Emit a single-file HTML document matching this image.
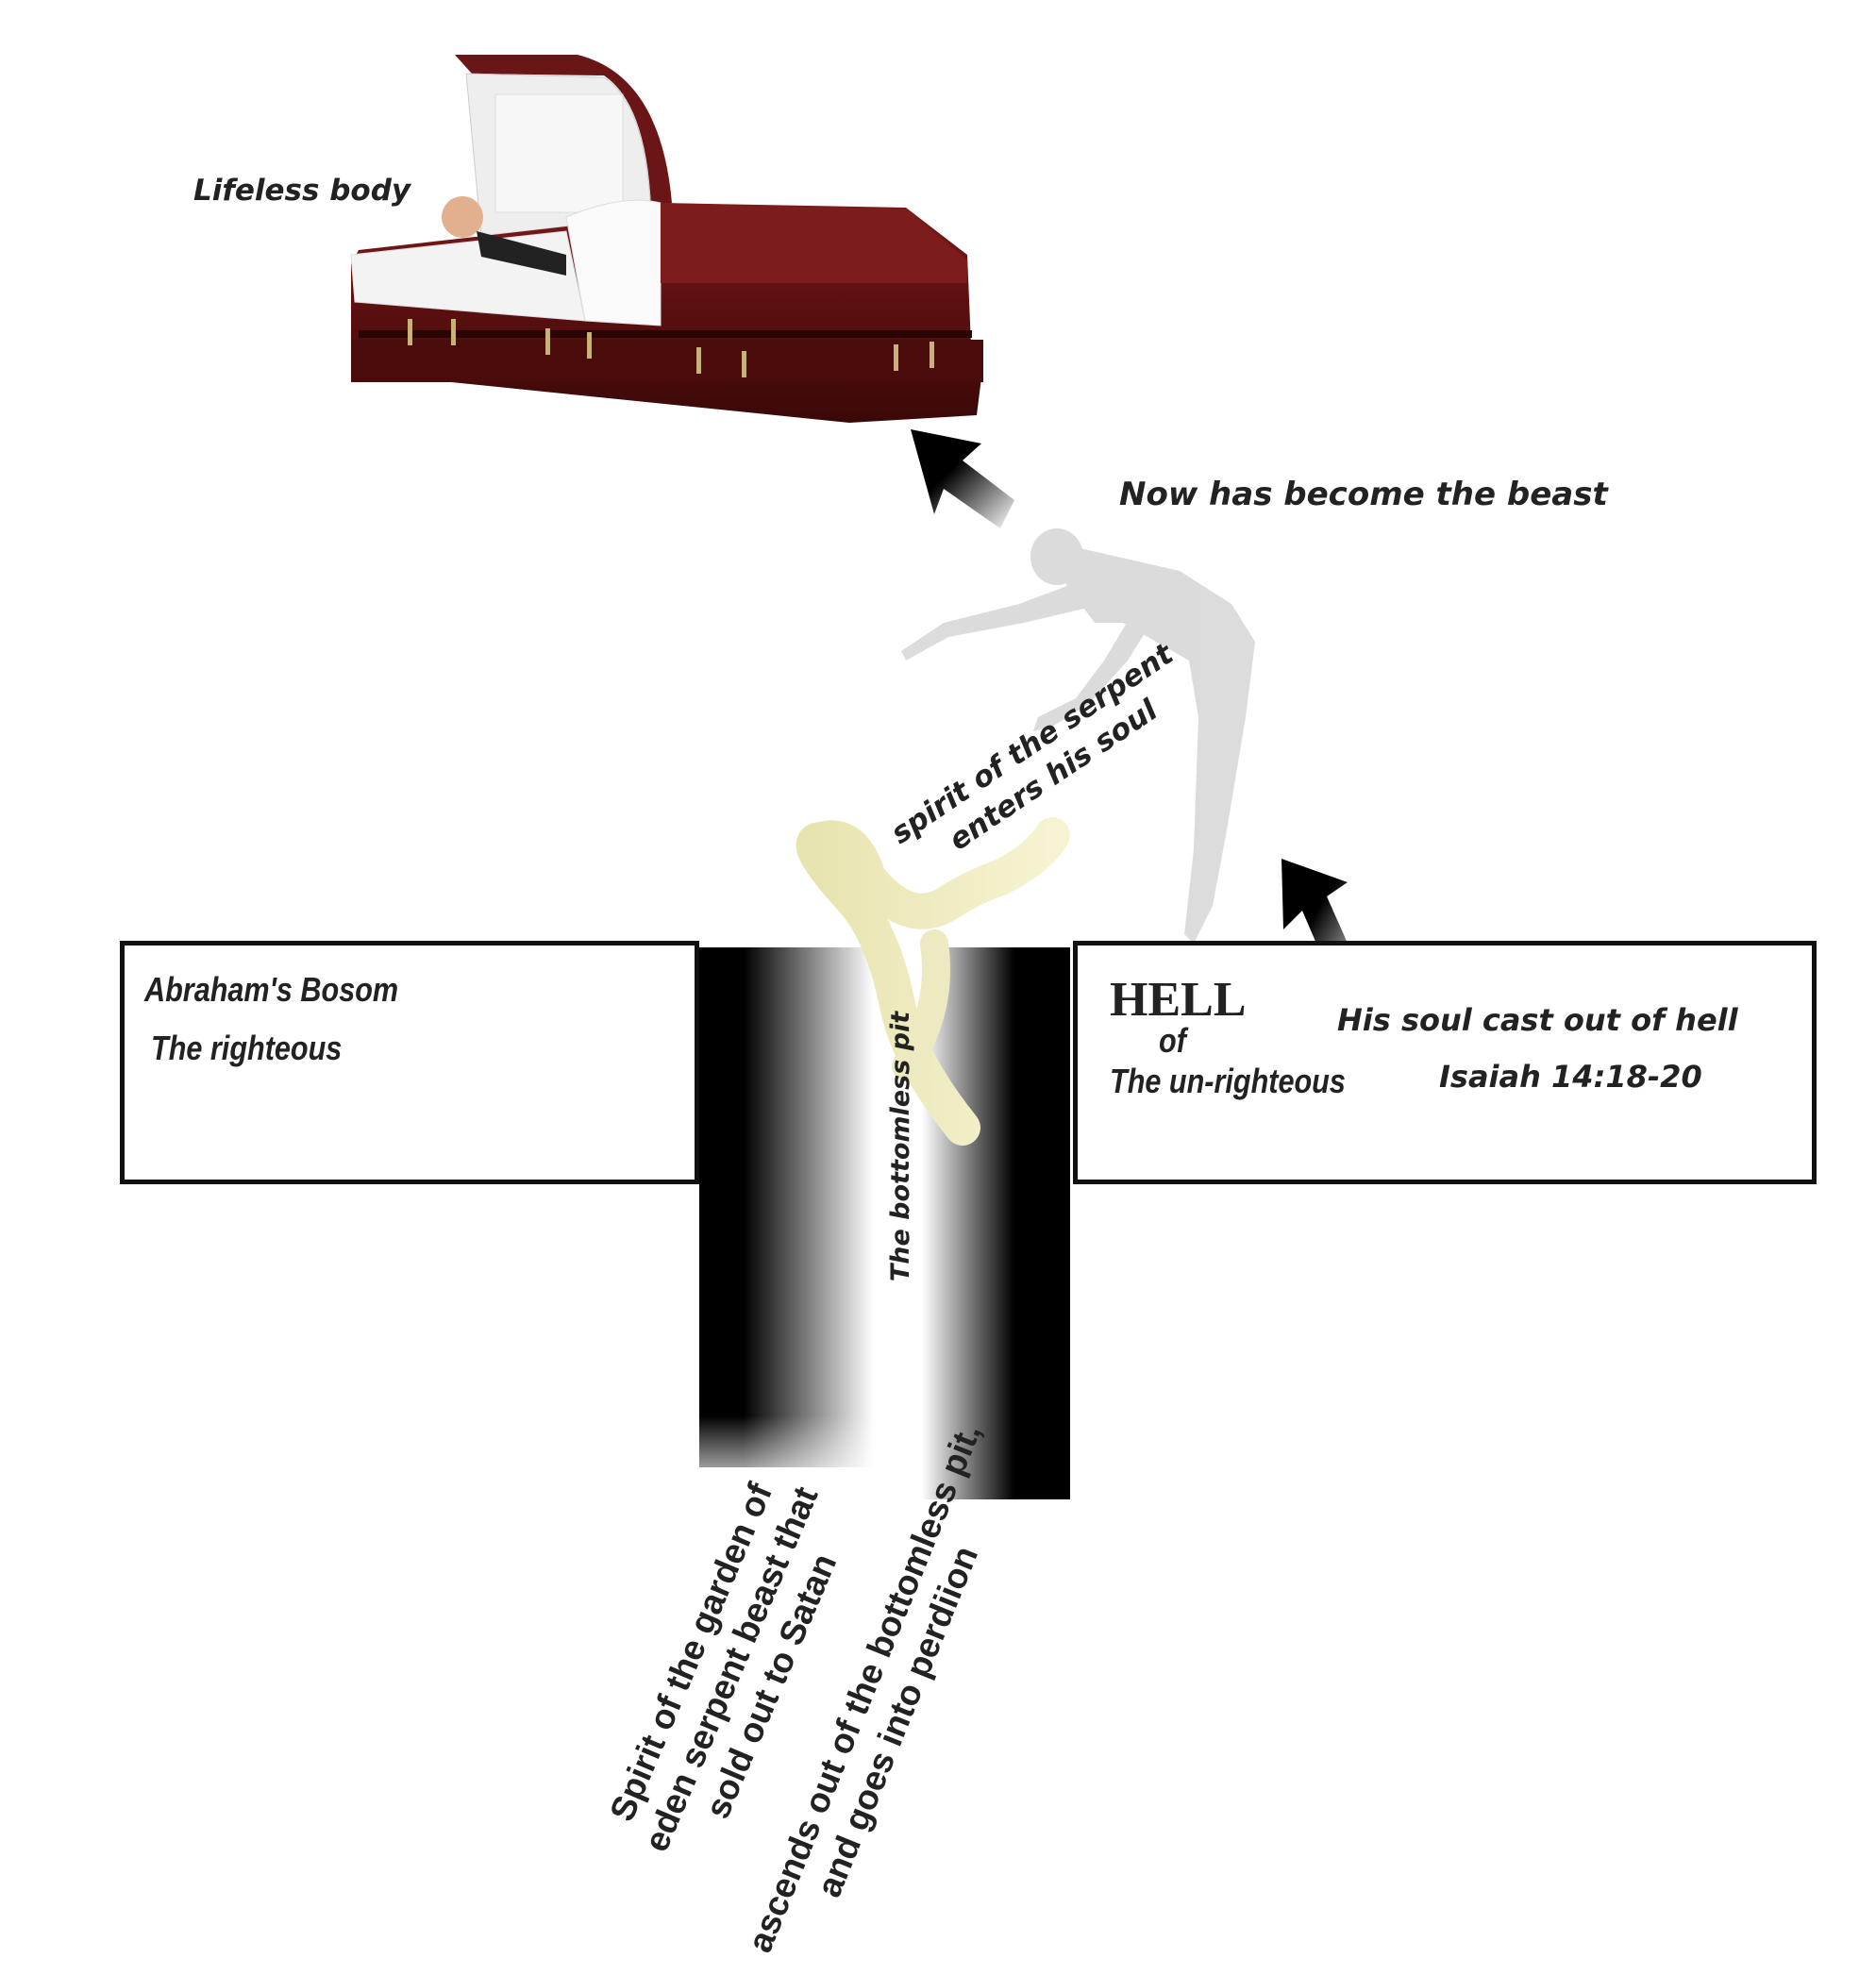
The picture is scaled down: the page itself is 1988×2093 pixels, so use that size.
<!DOCTYPE html>
<html><head><meta charset="utf-8"><style>
html,body{margin:0;padding:0;background:#fff;}
body{width:1988px;height:2048px;position:relative;overflow:hidden;font-family:"DejaVu Sans","Liberation Sans",sans-serif;}
.t{position:absolute;white-space:nowrap;color:#222;}
.bi{font-weight:bold;font-style:italic;font-family:"DejaVu Sans",sans-serif;}
.nar{font-family:"Liberation Sans",sans-serif;font-weight:bold;font-style:italic;transform-origin:left top;transform:scaleX(0.85);}
.box{position:absolute;border:5px solid #111;box-sizing:border-box;background:#fff;}
.rot{position:absolute;white-space:nowrap;text-align:center;transform-origin:center center;color:#222;font-weight:bold;}
</style></head><body>

<svg width="1988" height="2048" style="position:absolute;left:0;top:0">
<defs>
<linearGradient id="pit" x1="0" x2="1" y1="0" y2="0">
<stop offset="0" stop-color="#000"/><stop offset="0.12" stop-color="#000"/>
<stop offset="0.47" stop-color="#fff"/><stop offset="0.6" stop-color="#fff"/>
<stop offset="0.85" stop-color="#000"/><stop offset="1" stop-color="#000"/>
</linearGradient>
<linearGradient id="fadeB" x1="0" x2="0" y1="0" y2="1">
<stop offset="0" stop-color="#fff" stop-opacity="0"/><stop offset="1" stop-color="#fff"/>
</linearGradient>
<linearGradient id="ar1" x1="1" y1="1" x2="0" y2="0">
<stop offset="0" stop-color="#000" stop-opacity="0"/><stop offset="0.6" stop-color="#000"/><stop offset="1" stop-color="#000"/>
</linearGradient>
<linearGradient id="wood" x1="0" x2="0" y1="0" y2="1">
<stop offset="0" stop-color="#7a1a1a"/><stop offset="0.5" stop-color="#5a0f0f"/><stop offset="1" stop-color="#3a0808"/>
</linearGradient>
<linearGradient id="snake" x1="0" x2="1">
<stop offset="0" stop-color="#e8e4b0"/><stop offset="1" stop-color="#f6f3d2"/>
</linearGradient>
</defs>

<rect x="741" y="1004" width="393" height="585" fill="url(#pit)"/>
<rect x="741" y="1500" width="200" height="90" fill="url(#fadeB)"/>
<rect x="741" y="1555" width="200" height="40" fill="#fff"/>

<path d="M482 58 L612 58 Q700 80 712 215 L690 220 Q685 110 640 80 L500 78 Z" fill="#6b1616"/>
<path d="M494 78 L640 82 Q685 110 690 230 L510 250 Z" fill="#eeeeee" stroke="#ccc"/>
<rect x="525" y="100" width="135" height="125" fill="#f7f7f7" stroke="#ddd"/>
<path d="M372 280 L380 265 L600 240 L700 215 L960 220 L1025 270 L1030 390 L1040 400 L1035 440 L900 448 L380 395 L372 380 Z" fill="url(#wood)"/>
<path d="M372 270 L600 245 L620 340 L376 320 Z" fill="#f3f3f3" stroke="#ddd"/>
<path d="M600 230 Q660 205 700 215 L700 345 L620 340 Z" fill="#fafafa" stroke="#ddd"/>
<path d="M700 215 L960 222 L1025 275 L1025 300 L700 300 Z" fill="#7d1c1c"/>
<rect x="380" y="350" width="650" height="8" fill="#2a0505"/>
<rect x="372" y="360" width="670" height="45" fill="#4a0b0b"/>
<g fill="#c9b27a"><rect x="432" y="338" width="5" height="28"/><rect x="478" y="338" width="5" height="28"/><rect x="578" y="348" width="5" height="28"/><rect x="622" y="352" width="5" height="28"/><rect x="738" y="368" width="5" height="28"/><rect x="786" y="372" width="5" height="28"/><rect x="947" y="365" width="5" height="28"/><rect x="985" y="362" width="5" height="28"/></g>
<circle cx="490" cy="230" r="22" fill="#e2b08e"/>
<path d="M505 245 L600 270 L600 292 L510 272 Z" fill="#222"/>

<g fill="#d8d8d8" opacity="0.9">
<ellipse cx="1120" cy="590" rx="28" ry="30"/>
<path d="M1140 580 L1250 605 L1305 640 L1330 680 L1320 760 L1300 880 L1285 960 L1265 1000 L1255 990 L1265 900 L1270 760 L1260 700 L1190 660 L1160 660 L1130 620 Z"/>
<path d="M1160 610 L1080 640 L1000 660 L955 690 L960 700 L1005 675 L1085 660 L1170 640 Z"/>
<path d="M1200 650 L1170 700 L1140 740 L1100 760 L1095 775 L1115 770 L1155 745 L1195 700 L1220 660 Z"/>
</g>

<path d="M1020 1195 Q960 1120 950 1060 Q935 990 905 955 Q845 890 870 890 Q905 880 920 930 Q960 980 1000 960 Q1030 940 1060 930 Q1100 910 1115 885" stroke="url(#snake)" stroke-width="38" fill="none" stroke-linecap="round"/>
<path d="M960 1130 Q1000 1070 990 1000" stroke="#ede9c0" stroke-width="30" fill="none" stroke-linecap="round"/>

<g>
<polygon points="965,455 1040,470 1020,488 1075,530 1060,560 1000,518 990,545" fill="url(#ar1)"/>
<polygon points="1358,910 1428,935 1406,950 1446,1040 1420,1058 1380,965 1360,985" fill="url(#ar1)"/>
</g>
</svg>

<div class="box" style="left:127px;top:997px;width:614px;height:258px"></div>
<div class="box" style="left:1137px;top:997px;width:788px;height:258px"></div>
<div style="position:absolute;left:743px;top:1004px;width:3px;height:250px;background:#000"></div>

<div class="t nar" style="left:153px;top:1028px;font-size:36px">Abraham's Bosom</div>
<div class="t nar" style="left:160px;top:1090px;font-size:36px">The righteous</div>
<div class="t" style="left:1176px;top:1030px;font-size:52px;font-family:'Liberation Serif',serif;font-weight:bold;color:#222">HELL</div>
<div class="t nar" style="left:1228px;top:1082px;font-size:36px">of</div>
<div class="t nar" style="left:1176px;top:1125px;font-size:36px">The un-righteous</div>
<div class="t bi" style="left:1417px;top:1062px;font-size:32px">His soul cast out of hell</div>
<div class="t bi" style="left:1525px;top:1122px;font-size:32px">Isaiah 14:18-20</div>
<div class="t bi" style="left:205px;top:184px;font-size:31px">Lifeless body</div>
<div class="t bi" style="left:1186px;top:504px;font-size:34px">Now has become the beast</div>

<div class="rot bi" style="left:905px;top:765px;width:400px;font-size:31px;line-height:40px;transform:rotate(-34deg)">spirit of the serpent<br>enters his soul</div>
<div class="rot bi" style="left:805px;top:1197px;width:300px;font-size:27px;line-height:36px;transform:rotate(-90deg)">The bottomless pit</div>
<div class="rot" style="left:545px;top:1700px;width:460px;font-family:'Liberation Sans',sans-serif;font-weight:bold;font-size:37px;line-height:46px;transform:rotate(-67deg)">Spirit of the garden of<br>eden serpent beast that<br>sold out to Satan</div>
<div class="rot" style="left:650px;top:1770px;width:560px;font-family:'Liberation Sans',sans-serif;font-weight:bold;font-size:37px;line-height:46px;transform:rotate(-68deg)">ascends out of the bottomless pit,<br>and goes into perdiion</div>
</body></html>
